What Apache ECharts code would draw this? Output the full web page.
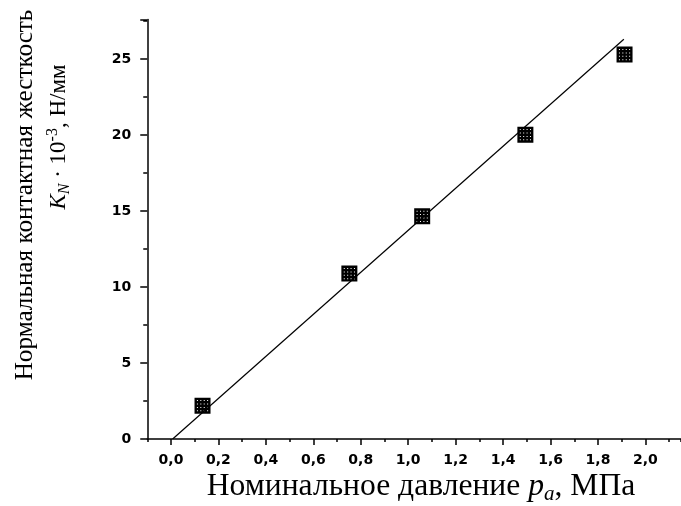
<!DOCTYPE html>
<html>
<head>
<meta charset="utf-8">
<script src="https://cdn.jsdelivr.net/npm/echarts@6/dist/echarts.min.js"></script>
<style>
html,body{margin:0;padding:0;background:#fff;}
#chart{width:681px;height:506px;}
</style>
</head>
<body>
<div id="chart"></div>
<script>
// Data
var pressure = [0.133, 0.752, 1.059, 1.494, 1.912];      // p_a, MPa
var stiffness = [2.19, 10.88, 14.65, 20.02, 25.29];      // K_N * 10^-3, N/mm
var fitX = [0.007, 1.909];
var fitY = [0.0, 26.3];
var xTickLabels = ['0,0','0,2','0,4','0,6','0,8','1,0','1,2','1,4','1,6','1,8','2,0'];
var yTickLabels = ['0','5','10','15','20','25'];

var xMin = -0.1, xMax = 2.15, yMin = 0, yMax = 27.6;
var pxPerX = 237.5, pxPerY = 15.2;
var zeroX = 171, zeroY = 439;

// hatched square marker path
var bars = [[0,2.4],[3.4,5.8],[6.8,9.2],[10.2,12.6],[13.6,16]];
var markerPath = 'path://';
bars.forEach(function(b){
  markerPath += 'M'+b[0]+' 0L'+b[1]+' 0L'+b[1]+' 16L'+b[0]+' 16Z';
  markerPath += 'M0 '+b[0]+'L16 '+b[0]+'L16 '+b[1]+'L0 '+b[1]+'Z';
});

var chart = echarts.init(document.getElementById('chart'), null, {renderer:'canvas'});
var gridTop = zeroY - yMax*pxPerY;
var gridH = yMax*pxPerY;
var tickFont = {color: '#000', fontFamily: 'DejaVu Sans', fontWeight: 'bold', fontSize: 14};
var option = {
  backgroundColor: '#fff',
  animation: false,
  grid: [
    {left: zeroX + xMin*pxPerX, top: gridTop, width: (xMax-xMin)*pxPerX, height: gridH},
    {left: zeroX, top: gridTop, width: xMax*pxPerX, height: gridH}
  ],
  xAxis: [
    {
      gridIndex: 0, type: 'value', min: xMin, max: xMax, interval: 0.1,
      axisLine: {show: true, onZero: false, lineStyle: {color: '#000', width: 1.5}},
      axisTick: {show: true, length: 3, inside: false, lineStyle: {color: '#000', width: 1.5}},
      axisLabel: {show: false},
      splitLine: {show: false}
    },
    {
      gridIndex: 1, type: 'value', min: 0, max: xMax, interval: 0.2,
      axisLine: {show: false, onZero: false},
      axisTick: {show: true, length: 6, lineStyle: {color: '#000', width: 1.5}},
      axisLabel: Object.assign({
        show: true, margin: 14, showMaxLabel: false,
        formatter: function(v){ var i = Math.round(v/0.2); return (Math.abs(v - i*0.2) < 1e-6 && i < xTickLabels.length) ? xTickLabels[i] : ''; }
      }, tickFont),
      splitLine: {show: false}
    }
  ],
  yAxis: [
    {
      gridIndex: 0, type: 'value', min: yMin, max: yMax, interval: 5,
      axisLine: {show: true, onZero: false, lineStyle: {color: '#000', width: 1.5}},
      axisTick: {show: true, length: 7, lineStyle: {color: '#000', width: 1.5}},
      minorTick: {show: true, splitNumber: 2, length: 4, lineStyle: {color: '#000', width: 1.5}},
      axisLabel: Object.assign({
        show: true, margin: 16, showMaxLabel: false,
        formatter: function(v){ var i = Math.round(v/5); return (Math.abs(v - i*5) < 1e-6 && i < yTickLabels.length) ? yTickLabels[i] : ''; }
      }, tickFont),
      splitLine: {show: false}
    },
    {
      gridIndex: 1, type: 'value', min: yMin, max: yMax, show: false
    }
  ],
  series: [
    {
      type: 'line', xAxisIndex: 0, yAxisIndex: 0,
      data: fitX.map(function(x,i){ return [x, fitY[i]]; }),
      showSymbol: false, symbol: 'none',
      lineStyle: {color: '#000', width: 1.2},
      z: 2
    },
    {
      type: 'scatter', xAxisIndex: 0, yAxisIndex: 0,
      data: pressure.map(function(x,i){ return [x, stiffness[i]]; }),
      symbol: markerPath, symbolSize: 16,
      itemStyle: {color: '#000', opacity: 1},
      z: 3
    }
  ],
  graphic: [
    {
      type: 'text', x: 421, y: 487,
      style: {
        text: '{n|Номинальное давление }{i|p}{s|a}{n|, МПа}',
        textAlign: 'center', textVerticalAlign: 'middle',
        rich: {
          n: {fontFamily: 'Liberation Serif', fontSize: 31.6, color: '#000', lineHeight: 36},
          i: {fontFamily: 'Liberation Serif', fontStyle: 'italic', fontSize: 31.6, color: '#000', lineHeight: 36},
          s: {fontFamily: 'Liberation Serif', fontStyle: 'italic', fontSize: 21, color: '#000', lineHeight: 36, verticalAlign: 'bottom'}
        }
      }
    },
    {
      type: 'text', x: 25, y: 195, rotation: Math.PI/2,
      style: {
        text: 'Нормальная контактная жесткость',
        textAlign: 'center', textVerticalAlign: 'middle',
        fontFamily: 'Liberation Serif', fontSize: 25.2, fill: '#000'
      }
    },
    {
      type: 'text', x: 59, y: 137, rotation: Math.PI/2,
      style: {
        text: '{i|K}{s|N}{n| · 10}{p|-3}{n|, Н/мм}',
        textAlign: 'center', textVerticalAlign: 'middle',
        rich: {
          n: {fontFamily: 'Liberation Serif', fontSize: 23, color: '#000', lineHeight: 28},
          i: {fontFamily: 'Liberation Serif', fontStyle: 'italic', fontSize: 23, color: '#000', lineHeight: 28},
          s: {fontFamily: 'Liberation Serif', fontStyle: 'italic', fontSize: 16, color: '#000', lineHeight: 28, verticalAlign: 'bottom'},
          p: {fontFamily: 'Liberation Serif', fontSize: 16, color: '#000', lineHeight: 28, verticalAlign: 'top'}
        }
      }
    }
  ]
};
chart.setOption(option);
</script>
</body>
</html>
